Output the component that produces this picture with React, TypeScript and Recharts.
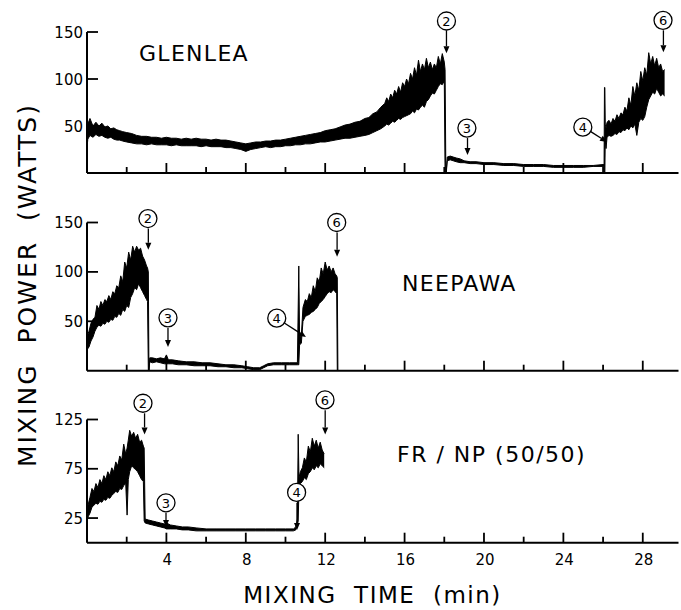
import { Fragment } from 'react'
import { ComposedChart, Area, XAxis, YAxis, ReferenceDot, ReferenceLine } from 'recharts'

const FONT = '"DejaVu Sans", "Liberation Sans", sans-serif'

const minuteTicks = [2, 4, 6, 8, 10, 12, 14, 16, 18, 20, 22, 24, 26, 28]

// GLENLEA trace: time (min), lower / upper edge of the noisy record (W)
const glenleaTime = [
  0, 0.04, 0.15, 0.3, 0.45, 0.6, 0.75, 0.9, 1.05, 1.2, 1.35, 1.5, 1.65, 1.8, 2.0, 2.25, 2.5, 2.75,
  3.0, 3.25, 3.5, 3.75, 4.0, 4.25, 4.5, 4.75, 5.0, 5.25, 5.5, 5.75, 6.0, 6.25, 6.5, 6.75, 7.0, 7.25,
  7.5, 7.75, 8.0, 8.25, 8.5, 8.75, 9.0, 9.25, 9.5, 9.75, 10.0, 10.25, 10.5, 10.75, 11.0, 11.25, 11.5,
  11.75, 12.0, 12.25, 12.5, 12.75, 13.0, 13.25, 13.5, 13.75, 14.0, 14.2, 14.4, 14.6, 14.8,
  15.0, 15.1, 15.2, 15.3, 15.4, 15.5, 15.6, 15.7, 15.8, 15.9, 16.0, 16.1, 16.2, 16.3, 16.4, 16.5,
  16.6, 16.7, 16.8, 16.9, 17.0, 17.1, 17.2, 17.3, 17.4, 17.5, 17.6, 17.7, 17.8, 17.9, 18.0, 18.04,
  18.08, 18.1, 18.15, 18.3, 18.45, 18.6, 18.8, 19.0, 19.3, 19.6, 20.0, 20.5, 21.0, 21.5, 22.0, 22.5,
  23.0, 23.5, 24.0, 24.5, 25.0, 25.5, 26.0, 26.05, 26.07, 26.09, 26.11, 26.15, 26.2, 26.3, 26.4,
  26.5, 26.6, 26.7, 26.8, 26.9, 27.0, 27.1, 27.2, 27.3, 27.4, 27.5, 27.6, 27.7, 27.8, 27.9, 28.0,
  28.1, 28.2, 28.3, 28.4, 28.5, 28.6, 28.7, 28.8, 28.9, 29.0, 29.1,
]
const glenleaLow = [
  26, 36, 40, 38, 41, 39, 40, 38, 37, 38, 36, 35, 35, 34, 33, 32, 31, 31,
  30, 31, 30, 30, 30, 29, 30, 29, 29, 29, 29, 28, 29, 28, 28, 28, 27, 27,
  26, 25, 23, 25, 26, 27, 28, 27, 28, 28, 29, 29, 30, 30, 31, 31, 32,
  33, 33, 34, 35, 36, 37, 37, 38, 39, 40, 41, 43, 45, 47,
  50, 52, 51, 53, 55, 54, 56, 58, 57, 59, 60, 61, 62, 63, 66, 64,
  68, 67, 70, 72, 70, 76, 78, 82, 85, 84, 88, 92, 95, 94, 98, 0,
  0, 0, 13, 14, 13, 12, 11, 11, 10, 10, 9, 9, 8, 8, 7, 7,
  7, 6, 6, 6, 6, 7, 7, 7, 0, 0, 36, 26, 38, 40, 39,
  40, 42, 41, 44, 43, 46, 45, 48, 46, 50, 48, 52, 40, 54, 58, 56,
  60, 70, 78, 82, 86, 84, 90, 86, 82, 84, 82,
]
const glenleaHigh = [
  32, 52, 58, 50, 54, 50, 53, 49, 50, 47, 48, 46, 45, 44, 43, 42, 40, 39,
  39, 38, 38, 37, 38, 37, 37, 36, 37, 36, 37, 36, 36, 35, 36, 35, 35, 34,
  33, 32, 31, 32, 33, 33, 34, 34, 35, 35, 36, 37, 38, 39, 40, 41, 42,
  43, 45, 46, 47, 49, 51, 52, 54, 55, 58, 59, 63, 65, 70,
  74, 80, 76, 84, 80, 88, 84, 92, 86, 96, 92, 100, 95, 106, 100, 112,
  104, 120, 108, 116, 110, 122, 112, 118, 110, 116, 112, 124, 116, 127, 118, 110,
  0, 2, 17, 18, 17, 16, 15, 13, 12, 12, 11, 11, 10, 10, 9, 9,
  9, 8, 8, 8, 8, 8, 9, 9, 91, 91, 52, 48, 54, 56, 52,
  58, 55, 62, 58, 64, 62, 70, 66, 80, 72, 92, 82, 96, 88, 108, 98,
  112, 104, 128, 116, 124, 114, 122, 112, 116, 108, 110,
]

// NEEPAWA trace
const neepawaTime = [
  0, 0.03, 0.1, 0.2, 0.3, 0.4, 0.5, 0.6, 0.7, 0.8, 0.9, 1.0, 1.1, 1.2, 1.3, 1.4, 1.5, 1.6, 1.7,
  1.8, 1.9, 2.0, 2.1, 2.2, 2.3, 2.4, 2.5, 2.6, 2.7, 2.8, 2.9, 3.0, 3.05, 3.09, 3.12, 3.16, 3.3,
  3.5, 3.7, 3.9, 4.0, 4.1, 4.3, 4.6, 5.0, 5.4, 5.8, 6.2, 6.6, 7.0, 7.4, 7.8, 8.1, 8.4, 8.7, 8.9,
  9.1, 9.4, 9.8, 10.2, 10.6, 10.67, 10.71, 10.8, 10.88, 11.0, 11.1, 11.2, 11.3, 11.4, 11.5, 11.6,
  11.7, 11.8, 11.9, 12.0, 12.1, 12.2, 12.3, 12.4, 12.5, 12.58, 12.61, 12.64,
]
const neepawaLow = [
  20, 22, 24, 30, 34, 40, 44, 46, 45, 48, 47, 50, 49, 52, 51, 55, 54, 58, 56,
  62, 60, 66, 64, 74, 78, 84, 82, 88, 84, 80, 76, 72, 70, 0, 0, 9, 8,
  9, 8, 7, 7, 7, 7, 6, 6, 5, 5, 5, 4, 4, 3, 3, 2, 1, 1, 3,
  5, 6, 6, 6, 6, 6, 26, 28, 50, 55, 56, 57, 59, 60, 62, 64,
  68, 70, 72, 75, 78, 80, 79, 82, 80, 78, 0, 0,
]
const neepawaHigh = [
  26, 36, 40, 48, 52, 54, 66, 62, 70, 66, 72, 70, 76, 72, 80, 78, 86, 84, 96,
  90, 110, 104, 120, 112, 126, 120, 126, 122, 124, 116, 112, 106, 104, 100, 0, 13, 13,
  12, 13, 12, 16, 11, 11, 10, 9, 9, 8, 8, 7, 6, 6, 5, 4, 3, 3, 5,
  7, 8, 8, 8, 8, 106, 34, 36, 64, 72, 70, 78, 74, 86, 80, 94,
  90, 104, 98, 110, 102, 106, 100, 104, 98, 96, 94, 0,
]

// FR/NP (50/50) trace
const blendTime = [
  0, 0.05, 0.15, 0.25, 0.35, 0.45, 0.55, 0.65, 0.75, 0.85, 0.95, 1.05, 1.15, 1.25, 1.35, 1.45,
  1.55, 1.65, 1.75, 1.85, 1.95, 2.02, 2.08, 2.15, 2.25, 2.35, 2.45, 2.55, 2.65, 2.75, 2.84, 2.88,
  2.93, 3.1, 3.3, 3.5, 3.7, 3.9, 4.0, 4.2, 4.5, 4.8, 5.1, 5.5, 6.0, 6.5, 7.0, 7.5, 8.0, 8.5, 9.0,
  9.5, 10.0, 10.4, 10.52, 10.6, 10.64, 10.68, 10.75, 10.85, 10.95, 11.05, 11.15, 11.25, 11.35,
  11.45, 11.55, 11.65, 11.75, 11.85, 11.95,
]
const blendLow = [
  22, 26, 30, 36, 38, 40, 39, 42, 41, 44, 43, 46, 45, 48, 50, 52,
  51, 55, 54, 58, 60, 28, 64, 72, 78, 76, 74, 72, 68, 64, 62, 22,
  20, 19, 18, 17, 16, 15, 14, 14, 14, 13, 13, 12, 12, 12, 12, 12, 12, 12, 12,
  12, 12, 12, 13, 18, 22, 56, 60, 62, 66, 64, 70, 72, 76,
  74, 78, 76, 80, 78, 76,
]
const blendHigh = [
  28, 38, 46, 55, 52, 60, 56, 64, 60, 68, 64, 72, 68, 76, 72, 82,
  78, 88, 84, 100, 90, 96, 104, 114, 108, 112, 106, 110, 102, 104, 98, 96,
  24, 23, 22, 21, 20, 19, 20, 18, 17, 16, 16, 15, 14, 14, 14, 14, 14, 14, 14,
  14, 14, 14, 16, 24, 110, 66, 72, 76, 86, 82, 98, 92, 106,
  98, 104, 96, 102, 94, 90,
]

// circled event markers: circle position, arrow from -> to (min, W)
const glenleaMarks = [
  { n: '2', t: 18.11, v: 161.7, from: [18.11, 151.8], to: [18.11, 127.4] },
  { n: '3', t: 19.14, v: 47.8, from: [19.17, 37.2], to: [19.17, 19.1] },
  { n: '4', t: 24.98, v: 48.8, from: [25.38, 44], to: [26.2, 32.9] },
  { n: '6', t: 29.02, v: 162.4, from: [29.04, 151.8], to: [29.04, 128.5] },
]
const neepawaMarks = [
  { n: '2', t: 3.07, v: 154, from: [3.09, 143.9], to: [3.09, 122.5] },
  { n: '3', t: 4.08, v: 53.5, from: [4.08, 43.3], to: [4.08, 24.1] },
  { n: '4', t: 9.56, v: 53.2, from: [9.94, 48.3], to: [11.03, 34.2] },
  { n: '6', t: 12.58, v: 150, from: [12.6, 139.8], to: [12.6, 115.4] },
]
const blendMarks = [
  { n: '2', t: 2.82, v: 141.5, from: [2.9, 131.3], to: [2.9, 109.9] },
  { n: '3', t: 3.98, v: 40.5, from: [3.98, 30.3], to: [3.98, 16] },
  { n: '4', t: 10.56, v: 51, from: [10.58, 40.5], to: [10.58, 13] },
  { n: '6', t: 11.99, v: 144.9, from: [12.0, 134.4], to: [12.0, 109.9] },
]

function MinuteTick({ x, y, payload, labelled }: any) {
  const major = payload.value % 4 === 0
  return (
    <g>
      <line x1={x} x2={x} y1={y} y2={y - (major ? 10 : 6)} stroke="#000" strokeWidth={1.8} />
      {labelled && major && (
        <text x={x + 1} y={y + 22} textAnchor="middle" fontSize={15} fontFamily={FONT} fill="#000">
          {payload.value}
        </text>
      )}
    </g>
  )
}

function PowerTick({ x, y, payload }: any) {
  return (
    <g>
      <line x1={x} x2={x + 11} y1={y} y2={y} stroke="#000" strokeWidth={1.8} />
      <text x={x - 4} y={y + 5.5} textAnchor="end" fontSize={15} fontFamily={FONT} fill="#000">
        {payload.value}
      </text>
    </g>
  )
}

function Arrow({ x1, y1, x2, y2 }: any) {
  const a = Math.atan2(y2 - y1, x2 - x1)
  const bx = x2 - 7 * Math.cos(a)
  const by = y2 - 7 * Math.sin(a)
  const px = 3 * Math.sin(a)
  const py = 3 * Math.cos(a)
  return (
    <g>
      <line x1={x1} y1={y1} x2={bx} y2={by} stroke="#000" strokeWidth={1.3} />
      <polygon points={`${x2},${y2} ${bx - px},${by + py} ${bx + px},${by - py}`} fill="#000" />
    </g>
  )
}

function Badge({ cx, cy, n }: any) {
  return (
    <g>
      <circle cx={cx} cy={cy} r={9} fill="#fff" stroke="#000" strokeWidth={1.3} />
      <text x={cx} y={cy + 4.8} textAnchor="middle" fontSize={13} fontFamily={FONT} fill="#000">
        {n}
      </text>
    </g>
  )
}

function Panel({ top, height, mt, mb, time, low, high, yMax, yTicks, marks, labelled }: any) {
  const data = time.map((t: number, i: number) => ({ t, range: [low[i], high[i]] }))
  return (
    <div style={{ position: 'absolute', left: 0, top }}>
      <ComposedChart width={681} height={height} data={data} margin={{ top: mt, right: 2.5, bottom: mb, left: 0 }}>
        <XAxis
          dataKey="t"
          type="number"
          domain={[0, 29.8]}
          ticks={minuteTicks}
          interval={0}
          allowDataOverflow
          height={2}
          tickSize={0}
          tickMargin={0}
          tickLine={false}
          axisLine={{ stroke: '#000', strokeWidth: 2 }}
          tick={(p: any) => <MinuteTick {...p} labelled={labelled} />}
        />
        <YAxis
          type="number"
          domain={[0, yMax]}
          ticks={yTicks}
          interval={0}
          allowDataOverflow
          width={87}
          tickSize={0}
          tickMargin={0}
          tickLine={false}
          axisLine={{ stroke: '#000', strokeWidth: 2 }}
          tick={(p: any) => <PowerTick {...p} />}
        />
        <Area
          dataKey="range"
          type="linear"
          stroke="#000"
          strokeWidth={1}
          fill="#000"
          fillOpacity={1}
          dot={false}
          activeDot={false}
          isAnimationActive={false}
        />
        {marks.map((m: any) => (
          <Fragment key={m.n}>
            <ReferenceLine
              segment={[{ x: m.from[0], y: m.from[1] }, { x: m.to[0], y: m.to[1] }]}
              ifOverflow="visible"
              shape={(p: any) => <Arrow {...p} />}
            />
            <ReferenceDot
              x={m.t}
              y={m.v}
              r={9}
              ifOverflow="visible"
              shape={(p: any) => <Badge cx={p.cx} cy={p.cy} n={m.n} />}
            />
          </Fragment>
        ))}
      </ComposedChart>
    </div>
  )
}

export default function App() {
  return (
    <div style={{ position: 'relative', width: 681, height: 610, background: '#fff', overflow: 'hidden' }}>
      <style>{'body{margin:0}'}</style>
      <Panel top={0} height={185} mt={32} mb={10} time={glenleaTime} low={glenleaLow} high={glenleaHigh}
        yMax={150} yTicks={[50, 100, 150]} marks={glenleaMarks} labelled={false} />
      <Panel top={190} height={190} mt={32.5} mb={7.3} time={neepawaTime} low={neepawaLow} high={neepawaHigh}
        yMax={150} yTicks={[50, 100, 150]} marks={neepawaMarks} labelled={false} />
      <Panel top={385} height={225} mt={34.5} mb={65.3} time={blendTime} low={blendLow} high={blendHigh}
        yMax={125} yTicks={[25, 75, 125]} marks={blendMarks} labelled />
      <svg width={681} height={610} style={{ position: 'absolute', left: 0, top: 0, pointerEvents: 'none' }}
        fontFamily={FONT} fill="#000">
        <text x={139} y={61} fontSize={22} letterSpacing={1.3}>GLENLEA</text>
        <text x={402} y={291} fontSize={22} letterSpacing={1.3}>NEEPAWA</text>
        <text x={397} y={462} fontSize={22} letterSpacing={1.5} style={{ whiteSpace: 'pre' }}>FR / NP (50/50)</text>
        <text x={372.5} y={603} fontSize={23} letterSpacing={1.5} textAnchor="middle" style={{ whiteSpace: 'pre' }}>
          MIXING  TIME  (min)
        </text>
        <text transform="translate(27,285) rotate(-90)" x={0} y={9} fontSize={25} letterSpacing={2}
          textAnchor="middle" style={{ whiteSpace: 'pre' }}>
          MIXING  POWER  (WATTS)
        </text>
      </svg>
    </div>
  )
}
